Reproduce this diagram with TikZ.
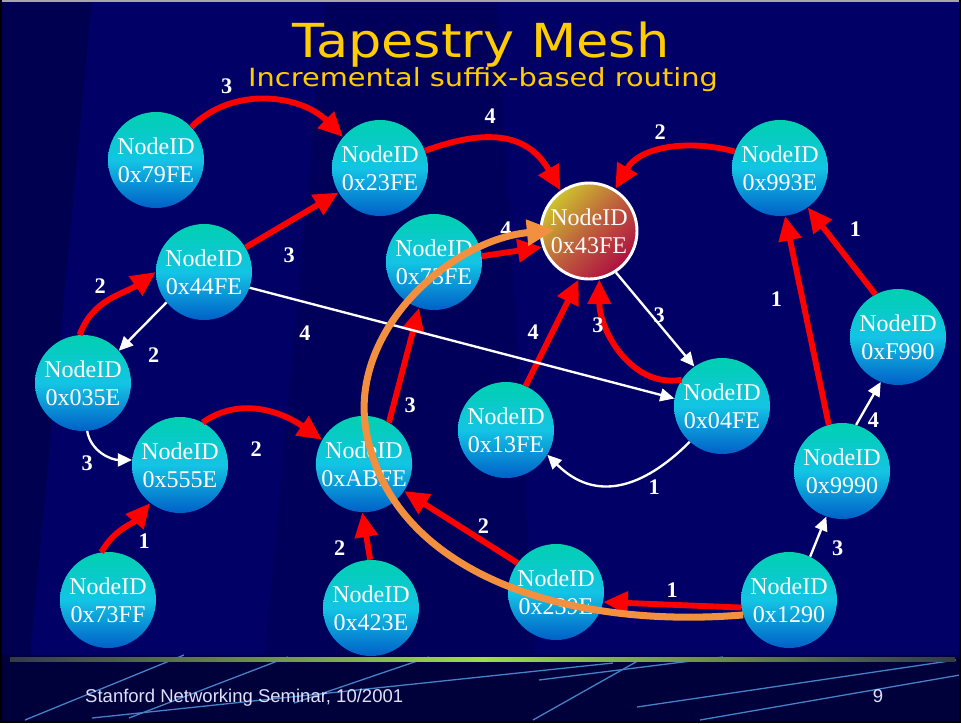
\documentclass[tikz,border=0pt]{standalone}
\usepackage{fontspec}
\setmainfont{Liberation Serif}
\newfontfamily\titlefont{DejaVu Sans}
\newfontfamily\footfont{Liberation Sans}
\usetikzlibrary{arrows.meta,calc,positioning,shapes}

\definecolor{slidebg}{RGB}{0,0,102}
\definecolor{bgdeep}{RGB}{0,0,80}
\definecolor{bgshade}{RGB}{0,0,90}
\definecolor{footbg}{RGB}{0,0,58}
\definecolor{footline}{RGB}{70,130,200}
\definecolor{barmid}{RGB}{160,220,80}
\definecolor{barend}{RGB}{50,60,70}
\definecolor{titleyellow}{RGB}{255,204,0}
\definecolor{nodetop}{RGB}{0,208,176}
\definecolor{nodemid}{RGB}{20,196,228}
\definecolor{nodebot}{RGB}{0,96,200}
\definecolor{destyel}{RGB}{205,195,45}
\definecolor{destmid}{RGB}{190,95,60}
\definecolor{destred}{RGB}{175,15,65}
\definecolor{hopred}{RGB}{255,0,0}
\definecolor{routeorange}{RGB}{243,144,64}

\tikzset{
  place/.style={circle,inner sep=0pt,minimum size=28.8mm,align=center,
    text=white,font=\fontsize{20.5}{24}\selectfont,
    top color=nodetop,bottom color=nodebot,middle color=nodemid},
  destplace/.style={place,draw=white,line width=2.5pt,text=white!90!pink,
    top color=destyel,bottom color=destred,middle color=destmid,shading angle=45},
  hop/.style={-{Triangle[length=21pt,width=19pt]},line width=5pt,draw=hopred},
  link/.style={-{Triangle[length=12pt,width=11pt]},line width=2pt,draw=white},
  route/.style={-{Triangle[length=24pt,width=21pt]},line width=6pt,draw=routeorange},
  num/.style={text=white,font=\bfseries\fontsize{19}{19}\selectfont,inner sep=1pt},
  titletext/.style={text=titleyellow,anchor=base,inner sep=0pt},
  foottext/.style={text=white!88!blue,font=\footfont\fontsize{15.8}{16}\selectfont,inner sep=0pt}
}

\begin{document}
\begin{tikzpicture}[x=0.3mm,y=-0.3mm]
  \useasboundingbox (0,0) rectangle (961,723);

  % slide background
  \fill[slidebg] (0,0) rectangle (961,655);
  \fill[bgdeep] (0,0) -- (92,0) -- (30,655) -- (0,655) -- cycle;
  \fill[bgshade] (325,0) -- (497,0) -- (535,655) -- (265,655) -- cycle;
  \fill[footbg] (0,655) rectangle (961,723);
  \foreach \a/\b/\c/\d in {25/720/184/655, 129/718/288/657, 294/703/429/657,
      92/718/613/663, 533/720/643/658, 539/680/723/657, 637/707/956/660, 700/720/960/675}
    \draw[footline,line width=1.1pt] (\a,\b) -- (\c,\d);
  \shade[left color=barend,right color=barend,middle color=barmid] (10,657) rectangle (955,661);
  \draw[gray!70,line width=1.5pt] (0,1) -- (961,1);
  \draw[black,line width=2.5pt] (1,0) -- (1,722) -- (960,722) -- (960,0);

  \node[titletext,font=\titlefont\fontsize{40}{40}\selectfont,xscale=1.12] (title) at (481,57) {Tapestry Mesh};
  \node[titletext,font=\titlefont\fontsize{21.4}{22}\selectfont,xscale=1.15] (subtitle) at (483,86) {Incremental suffix-based routing};
  \node[foottext,anchor=base west] (footer) at (85,702) {Stanford Networking Seminar, 10/2001};
  \node[foottext,anchor=base] (pagenum) at (878,702) {9};

  \node[place] (n79FE) at (156,160) {NodeID\\0x79FE};
  \node[place] (n23FE) at (380,168) {NodeID\\0x23FE};
  \node[destplace] (n43FE) at (589,231) {NodeID\\0x43FE};
  \node[place] (n993E) at (780,168) {NodeID\\0x993E};
  \node[place] (n44FE) at (204,272) {NodeID\\0x44FE};
  \node[place] (n73FE) at (434,262) {NodeID\\0x73FE};
  \node[place] (n035E) at (83,383) {NodeID\\0x035E};
  \node[place] (nF990) at (898,337) {NodeID\\0xF990};
  \node[place] (n04FE) at (722,406) {NodeID\\0x04FE};
  \node[place] (n13FE) at (506,430) {NodeID\\0x13FE};
  \node[place] (nABFE) at (364,464) {NodeID\\0xABFE};
  \node[place] (n555E) at (180,465) {NodeID\\0x555E};
  \node[place] (n9990) at (842,471) {NodeID\\0x9990};
  \node[place] (n73FF) at (108,600) {NodeID\\0x73FF};
  \node[place] (n423E) at (371,608) {NodeID\\0x423E};
  \node[place] (n239E) at (556,592) {NodeID\\0x239E};
  \node[place] (n1290) at (789,600) {NodeID\\0x1290};

  \path (n79FE.43) edge[hop,out=45,in=135] node[num,pos=0.25,above=6pt]{3} (n23FE.140);
  \path (n23FE.21) edge[hop,out=20,in=120,looseness=1.2] node[num,pos=0.4,above=9pt]{4} (n43FE.125);
  \path (n993E.160) edge[hop,out=165,in=60] node[num,pos=0.55,above=7pt]{2} (n43FE.58);
  \path (n44FE) edge[hop] node[num,pos=0.47,below=19pt]{3} (n23FE);
  \path (n035E.94) edge[hop,out=70,in=215] node[num,pos=0.5,above left=1pt]{2} (n44FE.180);
  \path (n73FE.7) edge[hop] node[num,pos=0.4,above=10pt]{4} (n43FE.199);
  \path (n13FE.66) edge[hop] node[num,pos=0.5,left=8pt]{4} (n43FE.258);
  \path (n04FE.147) edge[hop,out=190,in=-90] node[num,pos=0.7,left=0pt]{3} (n43FE.282);
  \path (nABFE.59) edge[hop] node[num,pos=0.15,right=6pt]{3} (n73FE.252);
  \path (n555E.62) edge[hop,out=35,in=145] node[num,pos=0.45,below=24pt]{2} (nABFE.150);
  \path (n73FF.98) edge[hop,out=60,in=230] node[num,pos=0.3,right=17pt,yshift=-5pt]{1} (n555E.232);
  \path (n423E.91) edge[hop] node[num,pos=0.25,left=16pt]{2} (nABFE.268);
  \path (n239E.143) edge[hop] node[num,pos=0.3,above=3pt]{2} (nABFE.-34);
  \path (n1290.189) edge[hop] node[num,pos=0.5,above=3pt]{1} (n239E.-12);
  \path (n9990.106) edge[hop] node[num,pos=0.6,left=14pt]{1} (n993E.-84);
  \path (nF990.118) edge[hop] node[num,pos=0.75,right=18pt]{1} (n993E.-55);

  \path (n44FE.219) edge[link] node[num,pos=0.95,right=21pt,yshift=-6pt]{2} (n035E.42);
  \path (n44FE.-19) edge[link] node[num,pos=0.13,below=18pt]{4} (n04FE.171);
  \path (n43FE.-57) edge[link] node[num,pos=0.45,right=0pt]{3} (n04FE.125);
  \path (n035E.-85) edge[link,out=-80,in=180] node[num,pos=0.4,below left=4pt]{3} (n555E.174);
  \path (n04FE.228) edge[link,out=225,in=-45,looseness=1.2] node[num,pos=0.25,below=6pt]{1} (n13FE.-31);
  \path (n9990.73) edge[link] node[num,pos=0.1,right=6pt]{4} (nF990.249);
  \path (n1290.64) edge[link] node[num,pos=0.2,right=14pt]{3} (n9990.251);

  \coordinate (rt) at ($(n43FE)+(-34,-1)$);
  \draw[route] (n1290.198) .. controls (560,630) and (390,570) .. (366,430)
    .. controls (349,331) and (450,240) .. (rt);
\end{tikzpicture}
\end{document}
